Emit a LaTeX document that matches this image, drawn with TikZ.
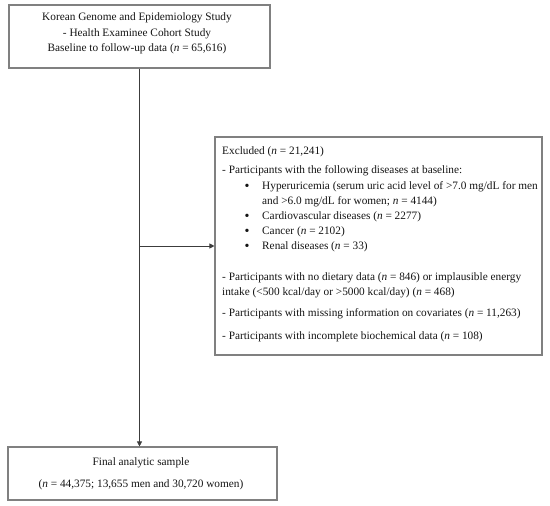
\documentclass[tikz,border=0pt]{standalone}
\usepackage{fontspec}
\setmainfont{Liberation Serif}
\usetikzlibrary{arrows.meta}
\definecolor{boxgray}{RGB}{128,128,128}
\definecolor{linegray}{RGB}{60,60,60}
\definecolor{txt}{RGB}{20,20,20}
\newcommand{\nn}{\textit{n}}
\tikzset{
  boxnode/.style={draw=boxgray, line width=1.1pt, rectangle, inner sep=0pt},
  lbl/.style={inner sep=0pt, text=txt, font=\fontsize{11.3}{13}\selectfont},
  bul/.style={inner sep=0pt, text=txt, font=\fontsize{14}{14}\selectfont},
  conn/.style={draw=linegray, line width=0.8pt, -{Triangle[length=5pt,width=5pt]}},
}
\begin{document}
\begin{tikzpicture}[x=1pt,y=1pt]
\useasboundingbox (0,0) rectangle (550,-506);
% boxes
\node[boxnode, minimum width=261pt, minimum height=63pt] (top) at (139.5,-36.5) {};
\node[boxnode, minimum width=327pt, minimum height=218pt] (excl) at (378.5,-246) {};
\node[boxnode, minimum width=269pt, minimum height=53pt] (final) at (142.5,-473.5) {};
% top texts
\node[lbl] (t1) at (137,-18) {Korean Genome and Epidemiology Study};
\node[lbl] (t2) at (137,-34) {- Health Examinee Cohort Study};
\node[lbl] (t3) at (137,-49) {Baseline to follow-up data (\nn{} = 65,616)};
% excluded texts
\node[lbl, anchor=west] (e1) at (222,-152) {Excluded (\nn{} = 21,241)};
\node[lbl, anchor=west] (e2) at (222,-171) {- Participants with the following diseases at baseline:};
\node[bul] (b1) at (247,-187) {\textbullet};
\node[lbl, anchor=west] (e3) at (262,-187) {Hyperuricemia (serum uric acid level of >7.0 mg/dL for men};
\node[lbl, anchor=west] (e4) at (262,-202) {and >6.0 mg/dL for women; \nn{} = 4144)};
\node[bul] (b2) at (247,-217) {\textbullet};
\node[lbl, anchor=west] (e5) at (262,-217) {Cardiovascular diseases (\nn{} = 2277)};
\node[bul] (b3) at (247,-232) {\textbullet};
\node[lbl, anchor=west] (e6) at (262,-232) {Cancer (\nn{} = 2102)};
\node[bul] (b4) at (247,-247) {\textbullet};
\node[lbl, anchor=west] (e7) at (262,-247) {Renal diseases (\nn{} = 33)};
\node[lbl, anchor=west] (e8) at (222,-278) {- Participants with no dietary data (\nn{} = 846) or implausible energy};
\node[lbl, anchor=west] (e9) at (222,-293) {intake (<500 kcal/day or >5000 kcal/day) (\nn{} = 468)};
\node[lbl, anchor=west] (e10) at (222,-314) {- Participants with missing information on covariates (\nn{} = 11,263)};
\node[lbl, anchor=west] (e11) at (222,-337) {- Participants with incomplete biochemical data (\nn{} = 108)};
% final texts
\node[lbl] (f1) at (141,-463) {Final analytic sample};
\node[lbl] (f2) at (141,-485) {(\nn{} = 44,375; 13,655 men and 30,720 women)};
% connectors
\coordinate (j) at (top.south |- excl.west);
\draw[conn] (top.south) -- (top.south |- final.north);
\draw[conn] (j) -- (excl.west);
\end{tikzpicture}
\end{document}
